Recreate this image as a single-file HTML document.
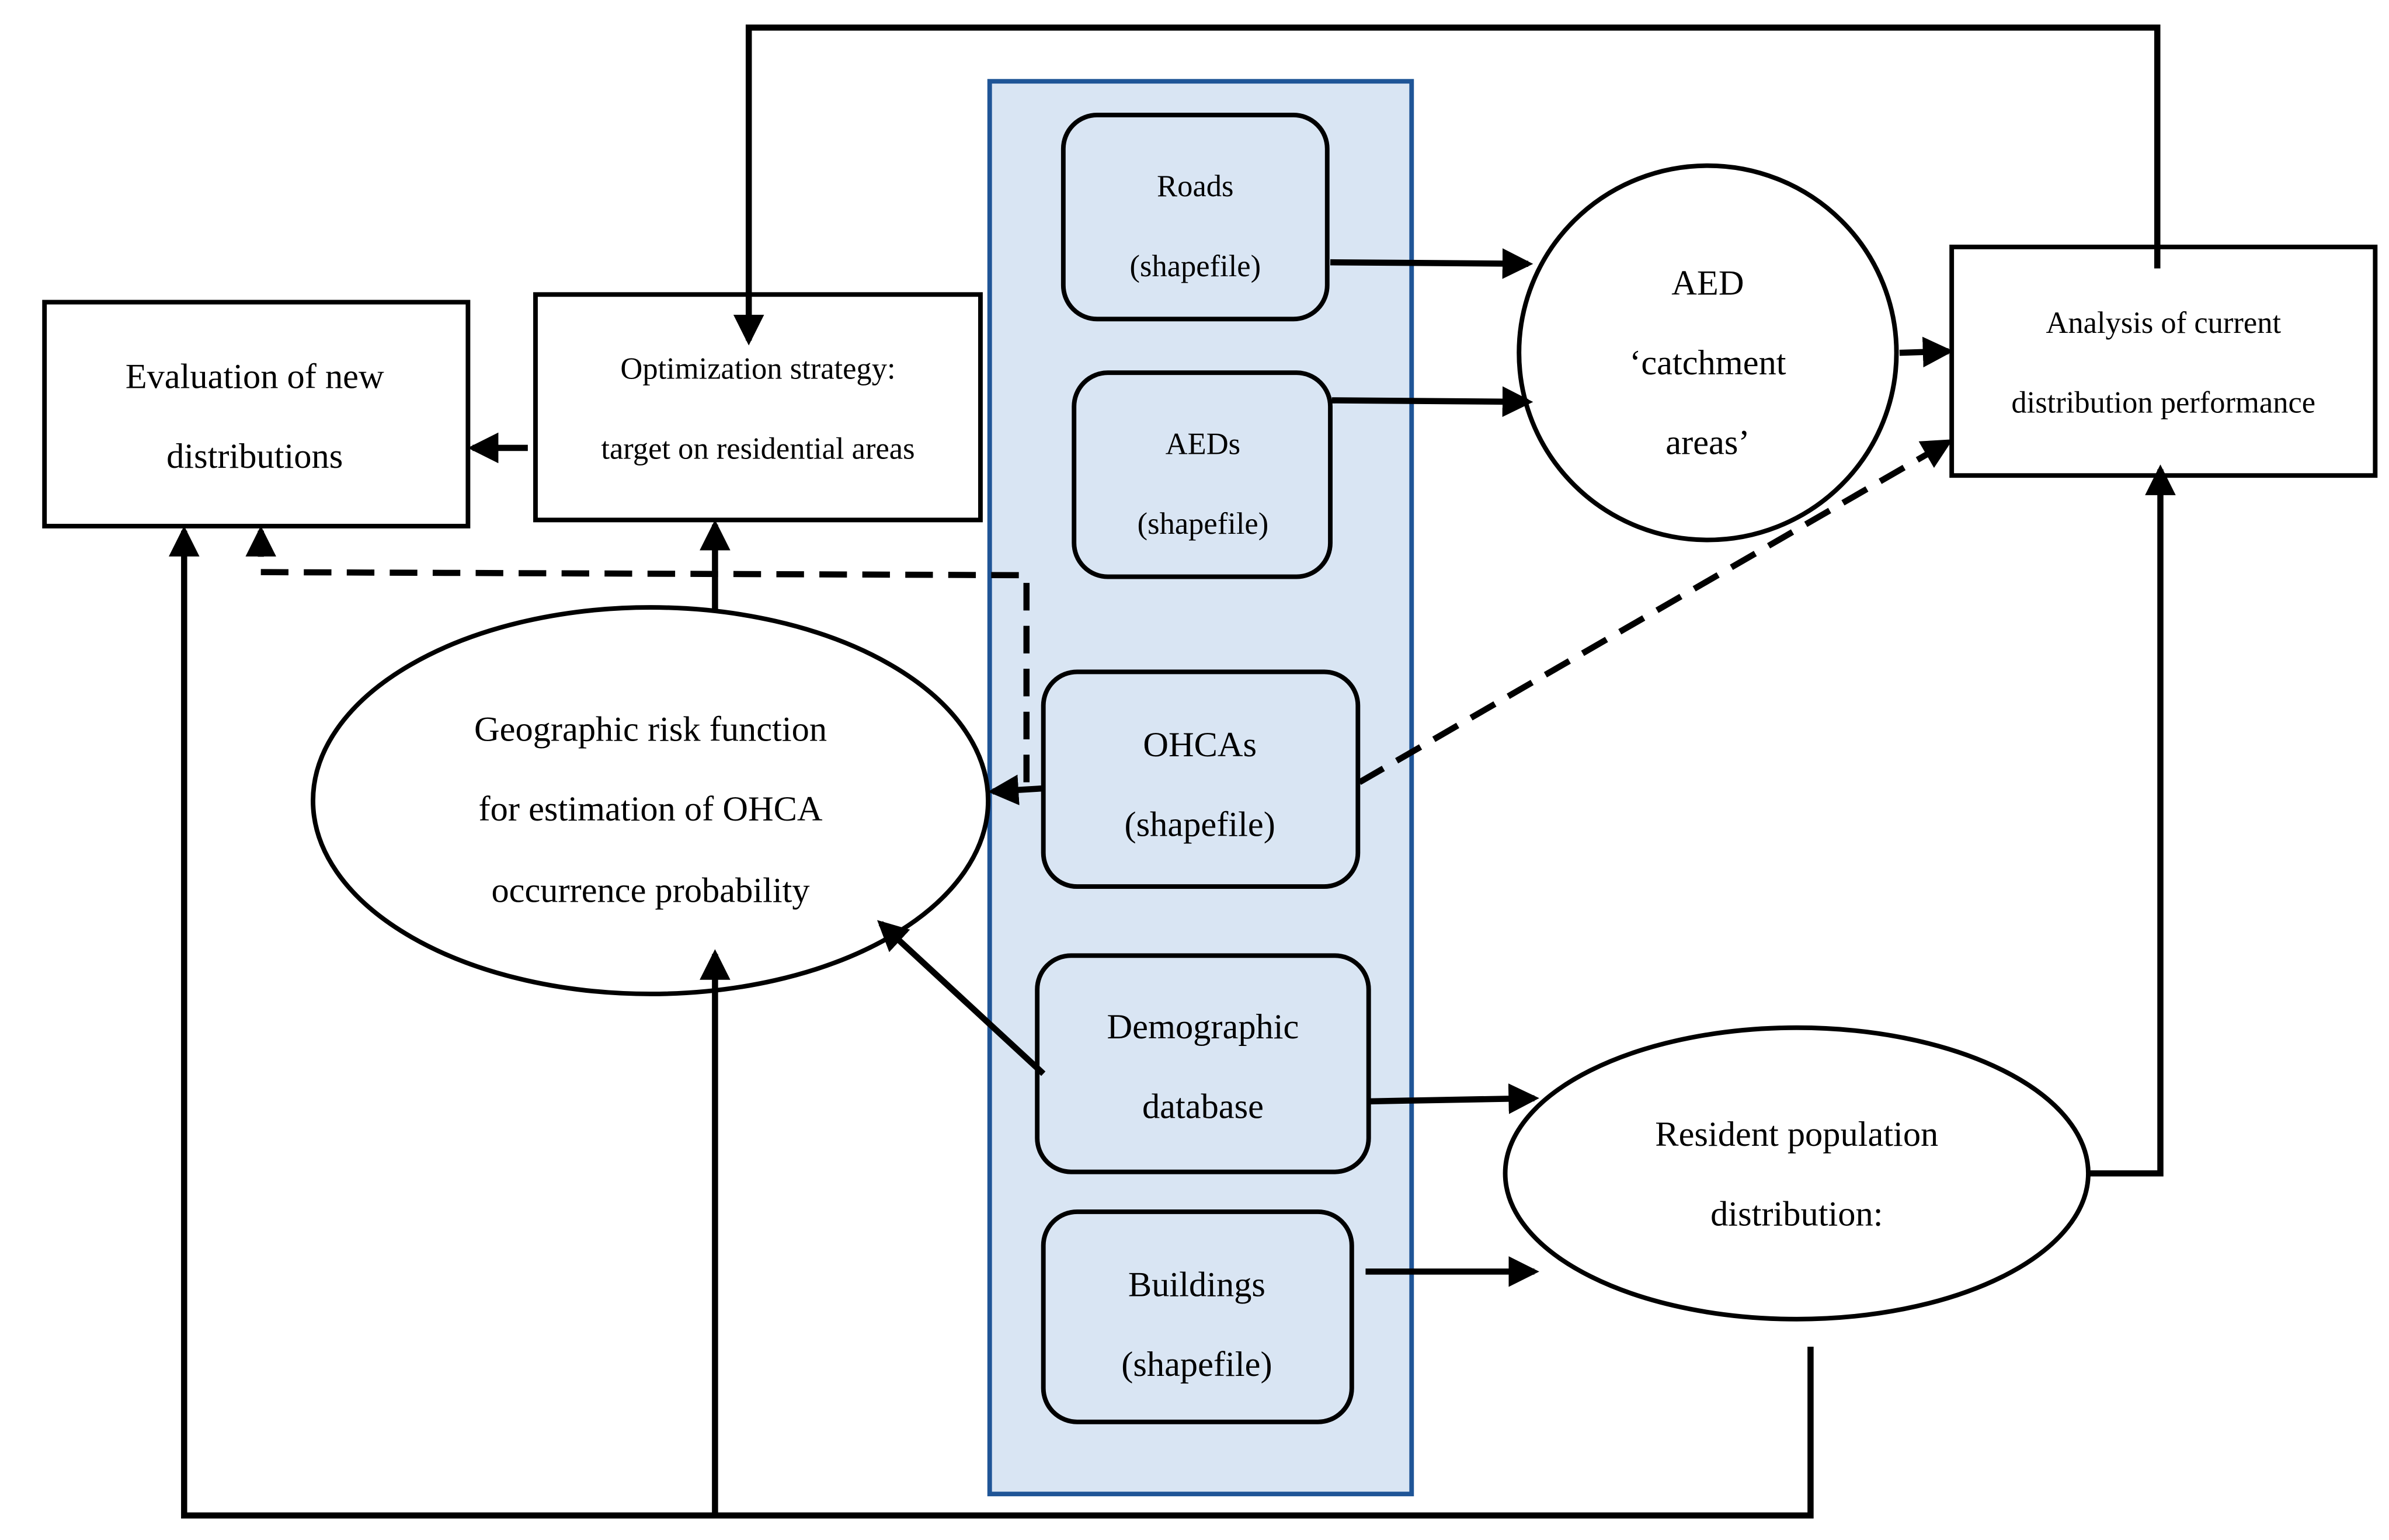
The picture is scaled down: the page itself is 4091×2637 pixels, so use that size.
<!DOCTYPE html>
<html><head><meta charset="utf-8"><style>
html,body{margin:0;padding:0;background:#fff;}
svg{display:block;}
text{font-family:"Liberation Serif",serif;fill:#000;text-anchor:middle;}
</style></head><body>
<svg width="4091" height="2637" viewBox="0 0 1557 1004" preserveAspectRatio="none" xmlns="http://www.w3.org/2000/svg">
<defs>
<marker id="a" markerWidth="5" markerHeight="5" refX="4.2" refY="2.5" orient="auto" markerUnits="strokeWidth">
<path d="M0,0 L5,2.5 L0,5 z" fill="#000"/></marker>
</defs>
<rect x="645" y="53" width="275" height="921" fill="#d9e5f3" stroke="#1f5597" stroke-width="3"/>
<g fill="#d9e5f3" stroke="#000" stroke-width="3">
<rect x="693" y="75" width="172" height="133" rx="22"/>
<rect x="700" y="243" width="167" height="133" rx="22"/>
<rect x="680" y="438" width="205" height="140" rx="22"/>
<rect x="676" y="623" width="216" height="141" rx="22"/>
<rect x="680" y="790" width="201" height="137" rx="22"/>
</g>
<g fill="#fff" stroke="#000" stroke-width="3">
<ellipse cx="1113" cy="230" rx="123" ry="122"/>
<rect x="1272" y="161" width="276" height="149"/>
<rect x="29" y="197" width="276" height="146"/>
<rect x="349" y="192" width="290" height="147"/>
<ellipse cx="424" cy="522" rx="220" ry="126"/>
<ellipse cx="1171" cy="765" rx="190" ry="95"/>
</g>
<g font-size="20">
<text x="779" y="128">Roads</text><text x="779" y="180">(shapefile)</text>
<text x="784" y="296">AEDs</text><text x="784" y="348">(shapefile)</text>
<text x="1410" y="217">Analysis of current</text><text x="1410" y="269">distribution performance</text>
<text x="494" y="247">Optimization strategy:</text><text x="494" y="299">target on residential areas</text>
</g>
<g font-size="23">
<text x="782" y="493">OHCAs</text><text x="782" y="545">(shapefile)</text>
<text x="784" y="677">Demographic</text><text x="784" y="729">database</text>
<text x="780" y="845">Buildings</text><text x="780" y="897">(shapefile)</text>
<text x="1113" y="192">AED</text><text x="1113" y="244">‘catchment</text><text x="1113" y="296">areas’</text>
<text x="166" y="253">Evaluation of new</text><text x="166" y="305">distributions</text>
<text x="424" y="483">Geographic risk function</text><text x="424" y="535">for estimation of OHCA</text><text x="424" y="588">occurrence probability</text>
<text x="1171" y="747">Resident population</text><text x="1171" y="799">distribution:</text>
</g>
<g fill="none" stroke="#000" stroke-width="4">
<polyline points="1406,175 1406,18 488,18 488,222" marker-end="url(#a)"/>
<line x1="867" y1="171" x2="996" y2="172" marker-end="url(#a)"/>
<line x1="868" y1="261" x2="996" y2="262" marker-end="url(#a)"/>
<line x1="1238" y1="230" x2="1270" y2="229" marker-end="url(#a)"/>
<line x1="344" y1="292" x2="308" y2="292" marker-end="url(#a)"/>
<line x1="886" y1="510" x2="1270" y2="288" stroke-dasharray="18,10" marker-end="url(#a)"/>
<polyline points="669,510 669,375 170,373 170,346" stroke-dasharray="18,10" marker-end="url(#a)"/>
<line x1="466" y1="398" x2="466" y2="342" marker-end="url(#a)"/>
<line x1="680" y1="514" x2="647" y2="516" marker-end="url(#a)"/>
<line x1="680" y1="700" x2="574" y2="602" marker-end="url(#a)"/>
<line x1="893" y1="718" x2="1000" y2="716" marker-end="url(#a)"/>
<line x1="890" y1="829" x2="1000" y2="829" marker-end="url(#a)"/>
<polyline points="1361,765 1408,765 1408,306" marker-end="url(#a)"/>
<polyline points="1180,878 1180,988 120,988 120,346" marker-end="url(#a)"/>
<line x1="466" y1="988" x2="466" y2="622" marker-end="url(#a)"/>
</g>
</svg>
</body></html>
